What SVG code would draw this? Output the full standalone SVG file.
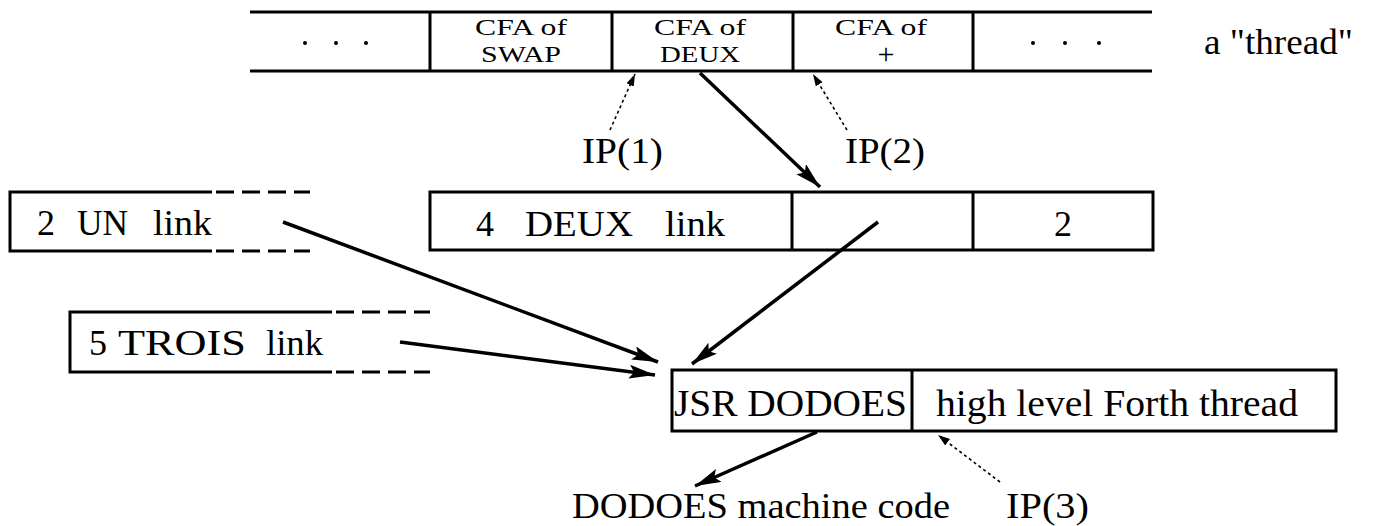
<svg xmlns="http://www.w3.org/2000/svg" width="1377" height="526" viewBox="0 0 1377 526">
<style>
.ln{stroke:#000;stroke-width:3;fill:none}
.dash{stroke:#000;stroke-width:3;fill:none;stroke-dasharray:18 8}
.t{font-family:"Liberation Serif","Times New Roman",serif;fill:#000}
.s{font-size:23px}
.m{font-size:36px}
.b{font-size:38px}
.thick{stroke:#000;stroke-width:3.5;fill:none}
.dot{stroke:#000;stroke-width:1.6;fill:none;stroke-dasharray:3 3}
</style>
<defs>
<marker id="ah" markerUnits="userSpaceOnUse" markerWidth="30" markerHeight="16" refX="26" refY="7" orient="auto">
<path d="M0,0 L26,7 L0,14 L5,7 z" fill="#000"/>
</marker>
<marker id="as" markerUnits="userSpaceOnUse" markerWidth="14" markerHeight="10" refX="12" refY="4" orient="auto">
<path d="M0,0 L12,4 L0,8 z" fill="#000"/>
</marker>
</defs>
<rect width="1377" height="526" fill="#fff"/>

<g id="thread">
<path class="ln" d="M250,12 H1152 M250,71 H1152 M430,12 V71 M612,12 V71 M793,12 V71 M973,12 V71"/>
<g fill="#000">
<circle cx="305" cy="43" r="2"/><circle cx="336" cy="43" r="2"/><circle cx="366" cy="43" r="2"/>
<circle cx="1033" cy="43" r="2"/><circle cx="1065" cy="43" r="2"/><circle cx="1099" cy="43" r="2"/>
</g>
<text class="t s" x="521" y="35" text-anchor="middle" textLength="92" lengthAdjust="spacingAndGlyphs">CFA of</text>
<text class="t s" x="521" y="62" text-anchor="middle" textLength="80" lengthAdjust="spacingAndGlyphs">SWAP</text>
<text class="t s" x="700" y="35" text-anchor="middle" textLength="92" lengthAdjust="spacingAndGlyphs">CFA of</text>
<text class="t s" x="700" y="62" text-anchor="middle" textLength="80" lengthAdjust="spacingAndGlyphs">DEUX</text>
<text class="t s" x="881" y="35" text-anchor="middle" textLength="92" lengthAdjust="spacingAndGlyphs">CFA of</text>
<text class="t" x="886" y="64" text-anchor="middle" font-size="30">+</text>
<text class="t m" x="1204" y="54" textLength="149" lengthAdjust="spacingAndGlyphs">a "thread"</text>
</g>

<g id="ip-labels">
<text class="t m" x="582" y="163" textLength="81" lengthAdjust="spacingAndGlyphs">IP(1)</text>
<text class="t m" x="845" y="163" textLength="80" lengthAdjust="spacingAndGlyphs">IP(2)</text>
</g>

<g id="deux">
<rect class="ln" x="430" y="192" width="723" height="58"/>
<path class="ln" d="M792,192 V250 M973,192 V250"/>
<text class="t m" x="476" y="236">4</text>
<text class="t m" x="525" y="236" textLength="108" lengthAdjust="spacingAndGlyphs">DEUX</text>
<text class="t m" x="665" y="236" textLength="60" lengthAdjust="spacingAndGlyphs">link</text>
<text class="t m" x="1063" y="236" text-anchor="middle">2</text>
</g>

<g id="un">
<path class="ln" d="M212,192 H10 V251 H212"/>
<path class="dash" d="M216,192 H310 M216,251 H310"/>
<text class="t m" x="37" y="235">2</text>
<text class="t m" x="77" y="235" textLength="51" lengthAdjust="spacingAndGlyphs">UN</text>
<text class="t m" x="153" y="235" textLength="59" lengthAdjust="spacingAndGlyphs">link</text>
</g>

<g id="trois">
<path class="ln" d="M332,312 H70 V372 H332"/>
<path class="dash" d="M336,312 H430 M336,372 H430"/>
<text class="t m" x="89" y="355">5</text>
<text class="t m" x="118" y="355" textLength="128" lengthAdjust="spacingAndGlyphs">TROIS</text>
<text class="t m" x="266" y="355" textLength="57" lengthAdjust="spacingAndGlyphs">link</text>
</g>

<g id="dodoes-word">
<rect class="ln" x="672" y="370" width="664" height="61"/>
<path class="ln" d="M912,370 V431"/>
<text class="t b" x="674" y="416" textLength="233" lengthAdjust="spacingAndGlyphs">JSR DODOES</text>
<text class="t b" x="936" y="416" textLength="362" lengthAdjust="spacingAndGlyphs">high level Forth thread</text>
</g>

<g id="bottom-labels">
<text class="t m" x="572" y="518" textLength="378" lengthAdjust="spacingAndGlyphs">DODOES machine code</text>
<text class="t m" x="1006" y="518" textLength="83" lengthAdjust="spacingAndGlyphs">IP(3)</text>
</g>

<g id="connectors">
<line class="dot" x1="610" y1="130" x2="635" y2="74" marker-end="url(#as)"/>
<line class="dot" x1="847" y1="130" x2="813" y2="74" marker-end="url(#as)"/>
<line class="thick" x1="700" y1="73" x2="820" y2="187" marker-end="url(#ah)"/>
<line class="thick" x1="878" y1="222" x2="692" y2="364" marker-end="url(#ah)"/>
<line class="thick" x1="283" y1="222" x2="658" y2="362" marker-end="url(#ah)"/>
<line class="thick" x1="400" y1="342" x2="655" y2="375" marker-end="url(#ah)"/>
<line class="thick" x1="817" y1="432" x2="695" y2="486" marker-end="url(#ah)"/>
<line class="dot" x1="1000" y1="482" x2="938" y2="435" marker-end="url(#as)"/>
</g>
</svg>
